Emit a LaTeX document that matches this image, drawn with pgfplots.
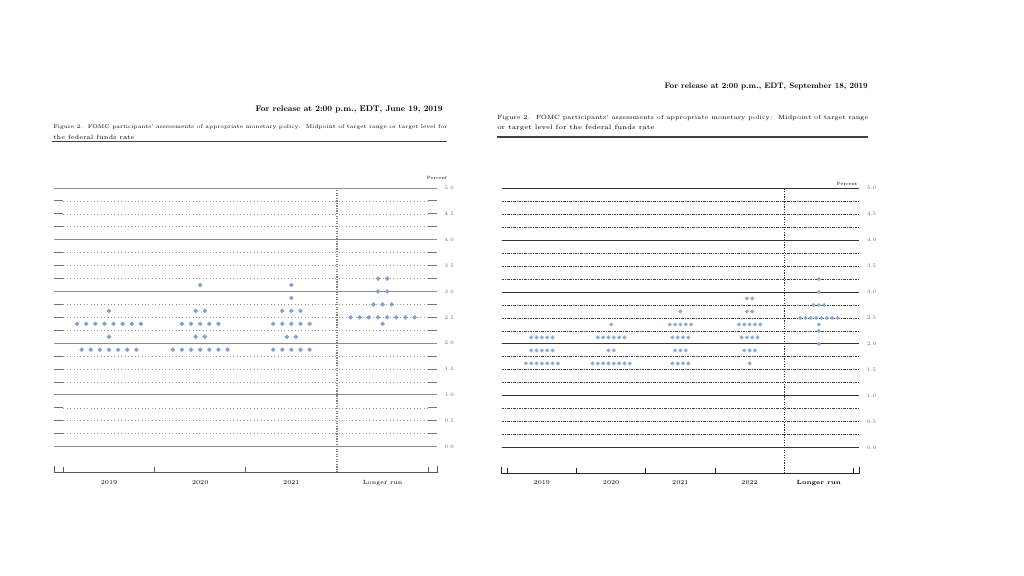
\documentclass[border=0pt]{standalone}
\usepackage{fontspec}
\usepackage{pgfplots}
\usepackage{pgfplotstable}
\usepackage{graphicx}
\pgfplotsset{compat=1.18}
\definecolor{dotblue}{RGB}{128,162,206}
\definecolor{dotblueb}{RGB}{140,172,214}

% June 2019 dots: x = category position (1=2019,2=2020,3=2021,4=Longer run), y = midpoint
\pgfplotstableread{
x y
1.00 2.625
0.65 2.375
0.75 2.375
0.85 2.375
0.95 2.375
1.05 2.375
1.15 2.375
1.25 2.375
1.35 2.375
1.00 2.125
0.70 1.875
0.80 1.875
0.90 1.875
1.00 1.875
1.10 1.875
1.20 1.875
1.30 1.875
2.00 3.125
1.95 2.625
2.05 2.625
1.80 2.375
1.90 2.375
2.00 2.375
2.10 2.375
2.20 2.375
1.95 2.125
2.05 2.125
1.70 1.875
1.80 1.875
1.90 1.875
2.00 1.875
2.10 1.875
2.20 1.875
2.30 1.875
3.00 3.125
3.00 2.875
2.90 2.625
3.00 2.625
3.10 2.625
2.80 2.375
2.90 2.375
3.00 2.375
3.10 2.375
3.20 2.375
2.95 2.125
3.05 2.125
2.80 1.875
2.90 1.875
3.00 1.875
3.10 1.875
3.20 1.875
3.95 3.25
4.05 3.25
3.95 3.00
4.05 3.00
3.90 2.75
4.00 2.75
4.10 2.75
3.65 2.50
3.75 2.50
3.85 2.50
3.95 2.50
4.05 2.50
4.15 2.50
4.25 2.50
4.35 2.50
4.00 2.375
}\junedots

% September 2019 dots: 1=2019,...,4=2022,5=Longer run
\pgfplotstableread{
x y
0.846 2.125
0.923 2.125
1.000 2.125
1.077 2.125
1.154 2.125
0.846 1.875
0.923 1.875
1.000 1.875
1.077 1.875
1.154 1.875
0.769 1.625
0.846 1.625
0.923 1.625
1.000 1.625
1.077 1.625
1.154 1.625
1.231 1.625
2.000 2.375
1.8075 2.125
1.8845 2.125
1.9615 2.125
2.0385 2.125
2.1155 2.125
2.1925 2.125
1.9615 1.875
2.0385 1.875
1.7305 1.625
1.8075 1.625
1.8845 1.625
1.9615 1.625
2.0385 1.625
2.1155 1.625
2.1925 1.625
2.2695 1.625
3.000 2.625
2.846 2.375
2.923 2.375
3.000 2.375
3.077 2.375
3.154 2.375
2.8845 2.125
2.9615 2.125
3.0385 2.125
3.1155 2.125
2.923 1.875
3.000 1.875
3.077 1.875
2.8845 1.625
2.9615 1.625
3.0385 1.625
3.1155 1.625
3.9615 2.875
4.0385 2.875
3.9615 2.625
4.0385 2.625
3.846 2.375
3.923 2.375
4.000 2.375
4.077 2.375
4.154 2.375
3.8845 2.125
3.9615 2.125
4.0385 2.125
4.1155 2.125
3.923 1.875
4.000 1.875
4.077 1.875
4.000 1.625
5.000 3.25
5.000 3.00
4.923 2.75
5.000 2.75
5.077 2.75
4.7305 2.50
4.8075 2.50
4.8845 2.50
4.9615 2.50
5.0385 2.50
5.1155 2.50
5.1925 2.50
5.2695 2.50
5.000 2.375
5.000 2.25
5.000 2.00
}\sepdots

\begin{document}
\begin{tikzpicture}
\path[use as bounding box] (0,0) rectangle (768pt,431.25pt);

% ---------------- Left: June 2019 ----------------
\node[anchor=east,inner sep=0] at (332.25pt,349.5pt)
  {\resizebox{140.25pt}{!}{\bfseries For release at 2:00 p.m., EDT, June 19, 2019}};
\node[anchor=west,inner sep=0] at (39.75pt,336pt)
  {\resizebox{295.5pt}{!}{\fontsize{4.7}{5.5}\selectfont Figure 2.\ \ FOMC participants' assessments of appropriate monetary policy:\ \ Midpoint of target range or target level for}};
\node[anchor=west,inner sep=0] at (39.75pt,328.5pt)
  {\fontsize{4.7}{5.5}\selectfont the federal funds rate};
\draw[line width=1.1pt,black!75] (38.8pt,325.1pt) -- (335.5pt,325.1pt);
\node[inner sep=0,font=\fontsize{3.4}{4}\selectfont] at (327.75pt,297.75pt) {Percent};

\begin{axis}[
  at={(40.725pt,76.8pt)}, anchor=south west,
  scale only axis, width=287.25pt, height=213.45pt,
  xmin=0.4, xmax=4.6, ymin=-0.5, ymax=5,
  clip=false,
  axis line style={draw=none},
  tick style={draw=none},
  xtick={1,2,3,4},
  xticklabels={2019,2020,2021,Longer run},
  xticklabel style={font=\fontsize{4.5}{5}\selectfont, yshift=-2.2pt},
  ytick={0,0.5,1,1.5,2,2.5,3,3.5,4,4.5,5},
  yticklabels={0.0,0.5,1.0,1.5,2.0,2.5,3.0,3.5,4.0,4.5,5.0},
  yticklabel pos=right,
  yticklabel style={font=\fontsize{3.9}{4.5}\selectfont, text=black!60, xshift=2pt},
]
\pgfplotsinvokeforeach{0,1,2,3,4,5}{
  \draw[black!45,line width=0.75pt] (axis cs:0.4,#1) -- (axis cs:4.6,#1);
}
\pgfplotsinvokeforeach{0.25,0.5,0.75,1.25,1.5,1.75,2.25,2.5,2.75,3.25,3.5,3.75,4.25,4.5,4.75}{
  \draw[black!40,line width=0.55pt,dotted] (axis cs:0.5,#1) -- (axis cs:4.5,#1);
  \draw[black!55,line width=0.75pt] (axis cs:0.4,#1) -- (axis cs:0.5,#1);
  \draw[black!55,line width=0.75pt] (axis cs:4.5,#1) -- (axis cs:4.6,#1);
}
\draw[black!50,line width=0.9pt,densely dotted] (axis cs:3.5,-0.5) -- (axis cs:3.5,5);
\draw[black!65,line width=0.6pt] (axis cs:0.4,-0.5) -- (axis cs:4.6,-0.5);
\draw[black!65,line width=0.6pt] (axis cs:0.4,-0.5) -- ++(0pt,5.25pt);
\draw[black!65,line width=0.6pt] (axis cs:4.6,-0.5) -- ++(0pt,5.25pt);
\pgfplotsinvokeforeach{0.5,1.5,2.5,4.5}{
  \draw[black!65,line width=0.6pt] (axis cs:#1,-0.5) -- ++(0pt,4pt);
}
\addplot[only marks, mark=*, mark size=1.45pt, color=dotblue, mark options={draw=none,fill=dotblue}] table[x=x,y=y] {\junedots};
\end{axis}

% ---------------- Right: September 2019 ----------------
\node[anchor=east,inner sep=0] at (651pt,366pt)
  {\resizebox{152.25pt}{!}{\bfseries For release at 2:00 p.m., EDT, September 18, 2019}};
\node[anchor=west,inner sep=0] at (372.75pt,342.75pt)
  {\resizebox{278.25pt}{!}{\fontsize{4.9}{5.5}\selectfont Figure 2.\ \ FOMC participants' assessments of appropriate monetary policy:\ \ Midpoint of target range}};
\node[anchor=west,inner sep=0] at (372.75pt,335.25pt)
  {\fontsize{4.9}{5.5}\selectfont or target level for the federal funds rate};
\draw[line width=1.1pt,black!75] (372.5pt,328.5pt) -- (651.25pt,328.5pt);
\node[inner sep=0,font=\fontsize{3.4}{4}\selectfont] at (635.25pt,293.25pt) {Percent};

\begin{axis}[
  at={(376.3pt,76.0pt)}, anchor=south west,
  scale only axis, width=267.95pt, height=214.1pt,
  xmin=0.42, xmax=5.58, ymin=-0.5, ymax=5,
  clip=false,
  axis line style={draw=none},
  tick style={draw=none},
  xtick={1,2,3,4,5},
  xticklabels={2019,2020,2021,2022,\textbf{Longer run}},
  xticklabel style={font=\fontsize{4.5}{5}\selectfont, yshift=-1.6pt},
  ytick={0,0.5,1,1.5,2,2.5,3,3.5,4,4.5,5},
  yticklabels={0.0,0.5,1.0,1.5,2.0,2.5,3.0,3.5,4.0,4.5,5.0},
  yticklabel pos=right,
  yticklabel style={font=\fontsize{3.9}{4.5}\selectfont, text=black!60, xshift=2.5pt},
]
\pgfplotsinvokeforeach{0,1,2,3,4,5}{
  \draw[black!80,line width=0.75pt] (axis cs:0.42,#1) -- (axis cs:5.58,#1);
}
\pgfplotsinvokeforeach{0.25,0.5,0.75,1.25,1.5,1.75,2.25,2.5,2.75,3.25,3.5,3.75,4.25,4.5,4.75}{
  \draw[black!75,line width=0.6pt,dash pattern=on 2pt off 0.8pt on 0.6pt off 0.8pt] (axis cs:0.42,#1) -- (axis cs:5.58,#1);
}
\draw[black!80,line width=0.9pt,densely dotted] (axis cs:4.5,-0.5) -- (axis cs:4.5,5);
\draw[black!85,line width=0.6pt] (axis cs:0.42,-0.5) -- (axis cs:5.58,-0.5);
\draw[black!85,line width=0.6pt] (axis cs:0.42,-0.5) -- ++(0pt,5.25pt);
\draw[black!85,line width=0.6pt] (axis cs:5.58,-0.5) -- ++(0pt,5.25pt);
\pgfplotsinvokeforeach{0.5,1.5,2.5,3.5,5.5}{
  \draw[black!85,line width=0.6pt] (axis cs:#1,-0.5) -- ++(0pt,4pt);
}
\addplot[only marks, mark=*, mark size=1.25pt, color=dotblueb, mark options={draw=none,fill=dotblueb}] table[x=x,y=y] {\sepdots};
\end{axis}
\end{tikzpicture}
\end{document}
